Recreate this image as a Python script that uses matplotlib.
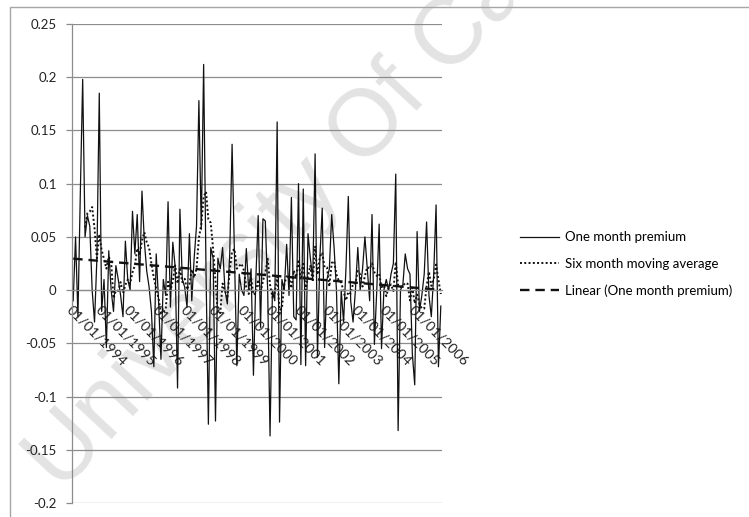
import numpy as np
import pandas as pd
import matplotlib
matplotlib.use('Agg')
from matplotlib import pyplot as plt
from matplotlib.patches import Rectangle

# one month premium, monthly Jan 1994 - Dec 2006
premium = [
    -0.010, 0.050, -0.025, 0.090, 0.198, 0.050, 0.070, 0.060, 0.000, -0.030,
    0.030, 0.185, -0.020, 0.010, -0.054, 0.037, 0.000, -0.020, 0.023, 0.010,
    -0.005, -0.025, 0.046, 0.010, 0.000, 0.074, 0.034, 0.071, 0.008, 0.093,
    0.046, 0.018, 0.003, -0.020, -0.072, 0.034, -0.010, -0.065, 0.010, -0.005,
    0.083, -0.016, 0.045, 0.022, -0.092, 0.076, 0.010, 0.003, -0.016, 0.053,
    -0.010, 0.030, 0.060, 0.178, 0.057, 0.212, 0.018, -0.126, 0.040, 0.030,
    -0.123, 0.030, 0.020, 0.040, 0.000, -0.013, 0.034, 0.137, 0.034, -0.071,
    0.015, 0.000, -0.005, 0.039, 0.000, 0.020, -0.080, 0.010, 0.070, -0.035,
    0.067, 0.065, 0.000, -0.137, 0.000, -0.010, 0.158, -0.124, 0.010, 0.000,
    0.043, -0.005, 0.087, -0.025, -0.028, 0.100, -0.070, 0.095, -0.071, 0.053,
    0.030, 0.010, 0.128, -0.063, 0.030, 0.077, -0.054, 0.010, 0.020, 0.071,
    0.040, 0.000, -0.088, 0.000, -0.030, 0.020, 0.088, -0.010, -0.030, 0.000,
    0.040, 0.000, 0.020, 0.050, 0.020, -0.010, 0.071, -0.051, 0.000, 0.062,
    -0.055, 0.000, 0.010, 0.000, 0.015, 0.025, 0.109, -0.132, 0.000, 0.005,
    0.034, 0.020, 0.015, -0.060, -0.089, 0.055, -0.020, -0.005, 0.015, 0.064,
    -0.005, -0.025, 0.015, 0.080, -0.072, -0.015,
]
dates = pd.date_range('1994-01-01', periods=len(premium), freq='MS')
tick_labels = [d.strftime('%d/%m/%Y') for d in dates if d.month == 1]
yticks = [-0.2, -0.15, -0.1, -0.05, 0, 0.05, 0.1, 0.15, 0.2, 0.25]
ytick_labels = ['-0.2', '-0.15', '-0.1', '-0.05', '0', '0.05', '0.1', '0.15', '0.2', '0.25']

x = np.arange(len(premium))
moving_avg = pd.Series(premium).rolling(6).mean()
slope, intercept = np.polyfit(x, premium, 1)
trend = slope * x + intercept

plt.rcParams['font.family'] = ['Lato', 'DejaVu Sans']

fig = plt.figure(figsize=(7.49, 5.17), dpi=100)

# outer chart border
fig.patches.append(Rectangle((10/749, -0.1), 1.0, 1 - 7/517 + 0.1, transform=fig.transFigure,
                             fill=False, edgecolor='#a6a6a6', linewidth=1.0))

# watermark
fig.text(0.015, 0.02, 'University Of Cape Town', rotation=47, fontsize=68,
         color='#e3e3e3', ha='left', va='bottom', zorder=-1, family='Liberation Sans')

ax = fig.add_axes([72/749, 1 - 503/517, (442 - 72)/749, (503 - 24)/517])
ax.patch.set_alpha(0)

for s in ['top', 'right']:
    ax.spines[s].set_visible(False)
ax.spines['bottom'].set_position(('data', 0))
ax.spines['bottom'].set_color('#8c8c8c')
ax.spines['left'].set_color('#8c8c8c')
ax.spines['bottom'].set_linewidth(0.9)
ax.spines['left'].set_linewidth(0.9)

ax.plot(x, premium, color='#111111', lw=0.9, label='One month premium')
ax.plot(x, moving_avg, color='#111111', lw=1.4, linestyle=(0, (1, 1.2)), label='Six month moving average')
ax.plot(x, trend, color='#111111', lw=1.7, linestyle=(0, (4, 2.5)), label='Linear (One month premium)')

ax.set_xlim(-0.5, len(premium) - 0.5)
ax.set_ylim(-0.2, 0.25)
ax.set_yticks(yticks)
ax.set_yticklabels(ytick_labels, fontsize=9.5, color='#222222')
ax.grid(axis='y', color='#8c8c8c', lw=0.9)
ax.set_axisbelow(True)

ax.set_xticks(x[::12])
ax.set_xticklabels(tick_labels, fontsize=10.3, color='#222222')
plt.setp(ax.get_xticklabels(), rotation=-45, ha='left', va='top', rotation_mode='anchor')
ax.tick_params(axis='x', length=0, pad=10)
ax.tick_params(axis='y', length=4, width=0.9, color='#8c8c8c', pad=7)

leg = fig.legend(loc='center left', bbox_to_anchor=(508/749, 1 - 264/517), frameon=False,
                 fontsize=9.5, handlelength=3.0, handletextpad=0.4, labelspacing=1.1)

fig.savefig('out.png', dpi=100)
